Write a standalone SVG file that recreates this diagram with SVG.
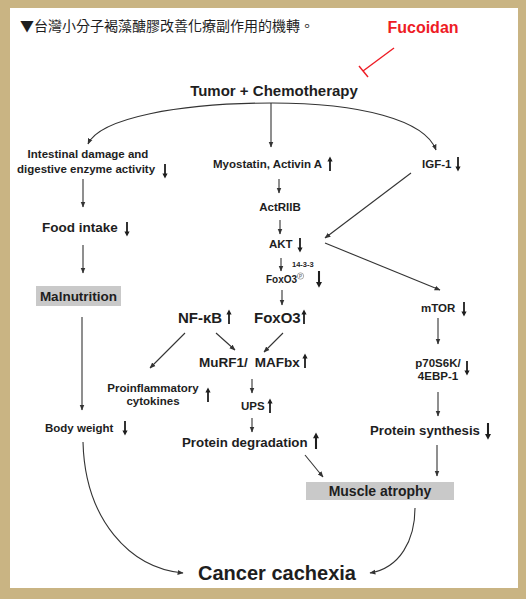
<svg xmlns="http://www.w3.org/2000/svg" width="526" height="599" viewBox="0 0 526 599">
<style>
.t{font-family:"Liberation Sans",Arial,sans-serif;font-weight:bold;fill:#1e1e1e}
.c{text-anchor:middle}
.ln{fill:none;stroke:#333;stroke-width:1.1}
.box{fill:#c9c9c9}
.ind{fill:#1e1e1e}
</style>
<defs>
<marker id="ah" viewBox="0 0 10 10" refX="9" refY="5" markerWidth="6" markerHeight="6" markerUnits="userSpaceOnUse" orient="auto">
<path d="M0,1 L10,5 L0,9 Z" fill="#333"/>
</marker>
<path id="dn" class="ind" d="M-0.9,-7 H0.9 V2.5 H2.6 L0,7.5 L-2.6,2.5 H-0.9 Z"/>
<path id="up" class="ind" d="M-0.9,7 H0.9 V-2.5 H2.6 L0,-7.5 L-2.6,-2.5 H-0.9 Z"/>
</defs>
<rect x="0" y="0" width="526" height="599" fill="#C9B483"/>
<rect x="10" y="8" width="508" height="580" fill="#fff"/>
<g id="title">
<text x="20" y="31" font-family="'Noto Sans CJK TC','Noto Sans CJK SC',sans-serif" font-size="14" fill="#1e1e1e">▼台灣小分子褐藻醣膠改善化療副作用的機轉。</text>
</g>
<g id="fucoidan">
<text class="t c" x="423" y="33" font-size="16" style="fill:#ee1c25">Fucoidan</text>
<line x1="394" y1="48" x2="363" y2="71" stroke="#ee1c25" stroke-width="1.4"/>
<line x1="359" y1="66" x2="368" y2="77" stroke="#ee1c25" stroke-width="1.4"/>
</g>
<g id="tumor"><text class="t c" x="274" y="96" font-size="15">Tumor + Chemotherapy</text></g>
<g id="intestinal">
<text class="t c" x="88" y="158" font-size="11.5">Intestinal damage and</text>
<text class="t" x="17" y="173" font-size="11.5">digestive enzyme activity</text>
<use href="#dn" x="165" y="171"/>
</g>
<g id="food">
<text class="t" x="42" y="232" font-size="13.5">Food intake</text>
<use href="#dn" x="127" y="229"/>
</g>
<g id="malnutrition">
<rect class="box" x="36" y="286" width="85" height="20"/>
<text class="t c" x="78.5" y="301" font-size="13.5">Malnutrition</text>
</g>
<g id="bodyweight">
<text class="t" x="45" y="432" font-size="11.5">Body weight</text>
<use href="#dn" x="125" y="428"/>
</g>
<g id="myostatin">
<text class="t" x="213" y="168" font-size="11.5">Myostatin, Activin A</text>
<use href="#up" x="330" y="164"/>
</g>
<g id="actriib"><text class="t c" x="280" y="211" font-size="11.5">ActRIIB</text></g>
<g id="akt">
<text class="t" x="269" y="248" font-size="11.5">AKT</text>
<use href="#dn" x="300" y="245"/>
</g>
<g id="foxo3p">
<text class="t" x="292" y="267" font-size="7.5">14-3-3</text>
<text class="t" x="266" y="283" font-size="10">FoxO3</text>
<circle cx="300.5" cy="276" r="3.2" fill="none" stroke="#777" stroke-width="0.6"/>
<text class="t c" x="300.5" y="278" font-size="4.5" style="fill:#777">P</text>
<use href="#dn" transform="translate(319,279) scale(1.15)"/>
</g>
<g id="nfkb">
<text class="t" x="178" y="323" font-size="15">NF-κB</text>
<use href="#up" x="229" y="317"/>
</g>
<g id="foxo3">
<text class="t" x="254" y="323" font-size="15">FoxO3</text>
<use href="#up" x="304" y="317"/>
</g>
<g id="murf1">
<text class="t" x="199" y="367" font-size="13.5">MuRF1/<tspan dx="7">MAFbx</tspan></text>
<use href="#up" x="305" y="361"/>
</g>
<g id="proinflammatory">
<text class="t c" x="153" y="392" font-size="11.5">Proinflammatory</text>
<text class="t c" x="153" y="405" font-size="11.5">cytokines</text>
<use href="#up" x="208" y="395"/>
</g>
<g id="ups">
<text class="t" x="241" y="410" font-size="11.5">UPS</text>
<use href="#up" x="270" y="406"/>
</g>
<g id="degradation">
<text class="t" x="182" y="447" font-size="13.3">Protein degradation</text>
<use href="#up" transform="translate(316,441) scale(1.15)"/>
</g>
<g id="igf1">
<text class="t" x="422" y="168" font-size="11.5">IGF-1</text>
<use href="#dn" x="458" y="164"/>
</g>
<g id="mtor">
<text class="t" x="421" y="312" font-size="11.5">mTOR</text>
<use href="#dn" x="464" y="309"/>
</g>
<g id="p70s6k">
<text class="t c" x="438" y="367" font-size="11.5">p70S6K/</text>
<text class="t c" x="438" y="380" font-size="11.5">4EBP-1</text>
<use href="#dn" x="467" y="368"/>
</g>
<g id="synthesis">
<text class="t" x="370" y="435" font-size="13.2">Protein synthesis</text>
<use href="#dn" transform="translate(488,431) scale(1.15)"/>
</g>
<g id="muscle">
<rect class="box" x="306" y="482" width="148" height="18"/>
<text class="t c" x="380" y="496" font-size="14">Muscle atrophy</text>
</g>
<g id="cachexia"><text class="t c" x="277" y="580" font-size="20">Cancer cachexia</text></g>
<g id="connectors">
<path class="ln" d="M272,103 C180,103 100,118 88,144" marker-end="url(#ah)"/>
<path class="ln" d="M272,103 C360,103 425,120 436,150" marker-end="url(#ah)"/>
<path class="ln" d="M271,103 V147" marker-end="url(#ah)"/>
<path class="ln" d="M83,179 V207" marker-end="url(#ah)"/>
<path class="ln" d="M83,245 V273" marker-end="url(#ah)"/>
<path class="ln" d="M82,317 V410" marker-end="url(#ah)"/>
<path class="ln" d="M83,442 C85,520 130,568 183,573" marker-end="url(#ah)"/>
<path class="ln" d="M279,179 V193" marker-end="url(#ah)"/>
<path class="ln" d="M280,220 V234" marker-end="url(#ah)"/>
<path class="ln" d="M281,258 V271" marker-end="url(#ah)"/>
<path class="ln" d="M282,290 V305" marker-end="url(#ah)"/>
<path class="ln" d="M185,333 L150,368" marker-end="url(#ah)"/>
<path class="ln" d="M216,333 L235,350" marker-end="url(#ah)"/>
<path class="ln" d="M283,333 L264,352" marker-end="url(#ah)"/>
<path class="ln" d="M252,379 V393" marker-end="url(#ah)"/>
<path class="ln" d="M252,418 V432" marker-end="url(#ah)"/>
<path class="ln" d="M305,455 L323,477" marker-end="url(#ah)"/>
<path class="ln" d="M411,173 L325,238" marker-end="url(#ah)"/>
<path class="ln" d="M325,243 L440,290" marker-end="url(#ah)"/>
<path class="ln" d="M438,318 V344" marker-end="url(#ah)"/>
<path class="ln" d="M438,392 V416" marker-end="url(#ah)"/>
<path class="ln" d="M437,445 V476" marker-end="url(#ah)"/>
<path class="ln" d="M415,508 C415,540 400,568 370,573" marker-end="url(#ah)"/>
</g>
</svg>
